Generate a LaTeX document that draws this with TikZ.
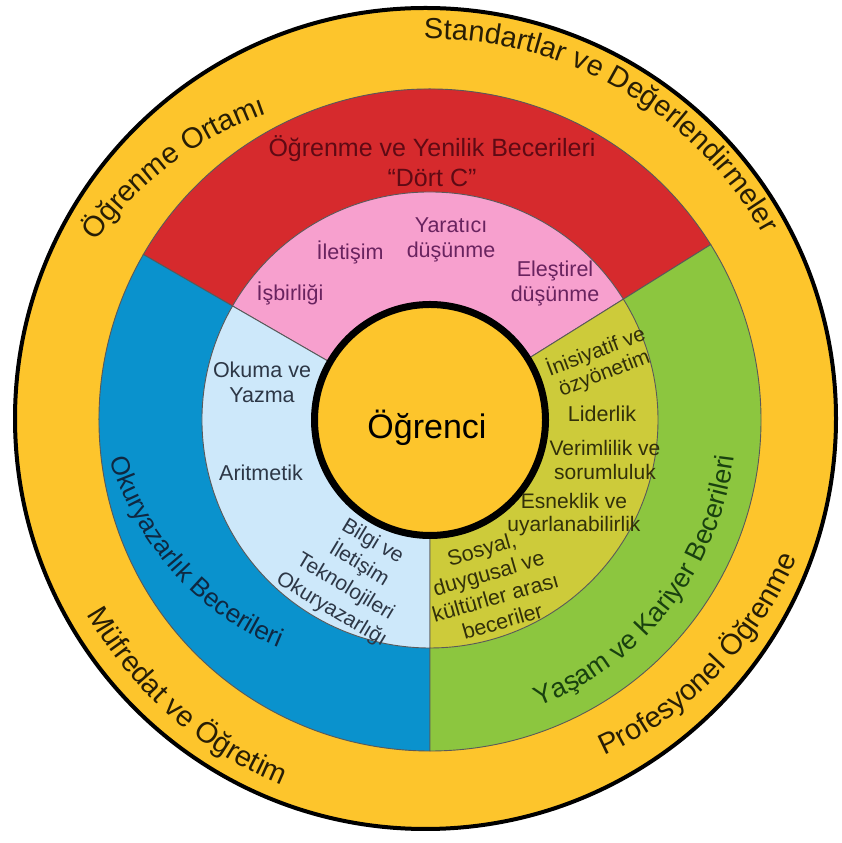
\documentclass[tikz,border=0pt]{standalone}
\usepackage{fontspec}
\setmainfont{Liberation Sans}
\usetikzlibrary{decorations.text}

\definecolor{ringyellow}{RGB}{253,197,44}
\definecolor{skillred}{RGB}{214,42,45}
\definecolor{skillblue}{RGB}{10,146,205}
\definecolor{skillgreen}{RGB}{140,198,63}
\definecolor{innerpink}{RGB}{247,160,206}
\definecolor{innerblue}{RGB}{205,232,250}
\definecolor{innerolive}{RGB}{205,203,58}
\definecolor{outerink}{RGB}{40,30,5}
\definecolor{redink}{RGB}{95,10,20}
\definecolor{pinkink}{RGB}{105,35,95}
\definecolor{blueink}{RGB}{45,55,70}
\definecolor{oliveink}{RGB}{50,48,10}
\definecolor{navyink}{RGB}{15,40,65}
\definecolor{greenink}{RGB}{25,65,15}

\newcommand{\fsz}[2]{\fontsize{#1}{#2}\selectfont}

\tikzset{
  wedge/.style={draw=black!65, line width=0.9},
  skill/.style={align=center, inner sep=0pt, font=\fsz{21.5}{25}},
  arc label/.style={decorate, decoration={text along path, text align=center, text={#1}}},
}

\begin{document}
\begin{tikzpicture}[x=1pt, y=1pt]
  \useasboundingbox (0,0) rectangle (842,843);
  \fill[white] (0,0) rectangle (842,843);
  % outer ring
  \filldraw[fill=ringyellow, draw=black, line width=4] (425.5,424.5) circle[radius=410.5];
  \begin{scope}[shift={(430,423)}]
    \foreach \a/\b/\c in {32/150/skillred, 150/270/skillblue, 270/392/skillgreen}
      \filldraw[fill=\c, wedge] (0,0) -- (\a:331) arc[start angle=\a, end angle=\b, radius=331] -- cycle;
    \foreach \a/\b/\c in {32/150/innerpink, 150/270/innerblue, 270/392/innerolive}
      \filldraw[fill=\c, wedge] (0,0) -- (\a:228) arc[start angle=\a, end angle=\b, radius=228] -- cycle;
    \filldraw[fill=ringyellow, draw=black, line width=7] (0,0) circle[radius=115.5];
    % curved labels (some drift inwards along the ring)
    \path[arc label={|\color{outerink}\fsz{29}{29}|Öğrenme Ortamı}] plot[domain=166:102, samples=65, variable=\t] (\t:{362+0.94*(\t-134)});
    \path[arc label={|\color{outerink}\fsz{29}{29}|Standartlar ve Değerlendirmeler}] (100:381) arc[start angle=100, end angle=20, radius=381];
    \path[arc label={|\color{outerink}\fsz{29}{29}|Müfredat ve Öğretim}] (189:394) arc[start angle=189, end angle=268.4, radius=394];
    \path[arc label={|\color{outerink}\fsz{29}{29}|Profesyonel Öğrenme}] plot[domain=280:356, samples=77, variable=\t] (\t:{385+0.33*(\t-318)});
    \path[arc label={|\color{navyink}\fsz{26}{26}|Okuryazarlık Becerileri}] plot[domain=172:255, samples=84, variable=\t] (\t:{296-1.0*(\t-213.5)});
    \path[arc label={|\color{greenink}\fsz{27}{27}|Yaşam ve Kariyer Becerileri}] (280:306) arc[start angle=280, end angle=364, radius=306];
  \end{scope}
  % straight labels
  \node[align=center, inner sep=0pt, font=\fsz{25}{30}, text=redink] (dortc) at (432,682) {Öğrenme ve Yenilik Becerileri\\“Dört C”};
  \node[skill, text=pinkink] (isbirligi) at (290,550) {İşbirliği};
  \node[skill, text=pinkink] (iletisim) at (350,591) {İletişim};
  \node[skill, text=pinkink] (yaratici) at (451,603) {Yaratıcı\\düşünme};
  \node[skill, text=pinkink] (elestirel) at (555,560) {Eleştirel\\düşünme};
  \node[skill, text=blueink] (okuma) at (262,461) {Okuma ve\\Yazma};
  \node[skill, text=blueink] (aritmetik) at (261,370) {Aritmetik};
  \node[skill, text=blueink, font=\fsz{21}{26.5}, rotate=-31] (bilgi) at (352,267) {Bilgi ve\\İletişim\\Teknolojileri\\Okuryazarlığı};
  \node[skill, text=oliveink, font=\fsz{21}{23}, rotate=21] (inisiyatif) at (600,481) {İnisiyatif ve\\özyönetim};
  \node[skill, text=oliveink] (liderlik) at (602,429) {Liderlik};
  \node[skill, text=oliveink, font=\fsz{21}{24}] (verimlilik) at (605,383) {Verimlilik ve\\sorumluluk};
  \node[skill, text=oliveink, font=\fsz{21}{23}] (esneklik) at (574,328) {Esneklik ve\\uyarlanabilirlik};
  \node[skill, text=oliveink, rotate=16] (sosyal) at (492,258) {Sosyal,\\duygusal ve\\kültürler arası\\beceriler};
  \node[font=\fsz{34}{34}, inner sep=0pt] (ogrenci) at (427,415) {Öğrenci};
\end{tikzpicture}
\end{document}
